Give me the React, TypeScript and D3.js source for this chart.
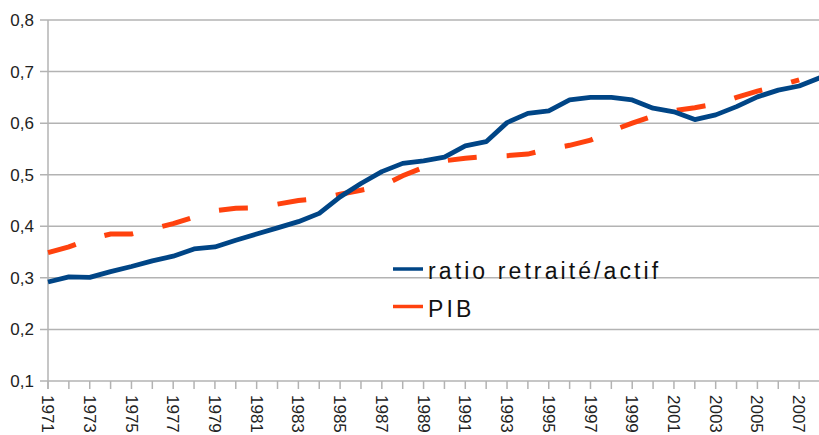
import React from "react";
import * as d3 from "d3";

const years: number[] = d3.range(1971, 2009);
const ratio: number[] = [
  0.292, 0.302, 0.301, 0.312, 0.322, 0.333, 0.342, 0.356, 0.36, 0.373,
  0.385, 0.397, 0.409, 0.425, 0.457, 0.483, 0.506, 0.522, 0.527, 0.534,
  0.556, 0.564, 0.601, 0.619, 0.624, 0.645, 0.65, 0.65, 0.645, 0.629,
  0.622, 0.607, 0.616, 0.632, 0.651, 0.664, 0.672, 0.688,
];
const pibYears: number[] = d3.range(1971, 2008);
const pib: number[] = [
  0.349, 0.36, 0.375, 0.385, 0.385, 0.395, 0.405, 0.418, 0.43, 0.435,
  0.436, 0.443, 0.45, 0.454, 0.462, 0.47, 0.478, 0.498, 0.514, 0.527,
  0.532, 0.535, 0.537, 0.54, 0.55, 0.557, 0.567, 0.585, 0.6, 0.614,
  0.624, 0.63, 0.637, 0.65, 0.662, 0.672, 0.684,
];
const yTicks: number[] = [0.1, 0.2, 0.3, 0.4, 0.5, 0.6, 0.7, 0.8];
const seriesNames: string[] = ["ratio retraité/actif", "PIB"];
const colors: string[] = ["#004586", "#ff420e"];

export default function App() {
  const W = 819, H = 435;
  const x = d3.scaleLinear().domain([1971, 2008]).range([48, 820]);
  const y = d3.scaleLinear().domain([0.1, 0.8]).range([381, 20]);
  const line = d3.line<[number, number]>().x((d) => x(d[0])).y((d) => y(d[1]));
  const ratioPts = years.map((yr, i) => [yr, ratio[i]] as [number, number]);
  const pibPts = pibYears.map((yr, i) => [yr, pib[i]] as [number, number]);
  const font = "'Liberation Sans', Arial, sans-serif";
  return (
    <svg width={W} height={H} style={{ position: "absolute", left: 0, top: 0 }}>
      <rect width={W} height={H} fill="#fff" />
      {yTicks.map((t) => (
        <g key={t}>
          <line x1={40} x2={W} y1={y(t)} y2={y(t)} stroke="#b3b3b3" strokeWidth={1.5} />
          <text x={34} y={y(t)} dy="0.35em" textAnchor="end" fontFamily={font} fontSize={17} fill="#222">
            {d3.format(".1f")(t).replace(".", ",")}
          </text>
        </g>
      ))}
      <line x1={48} x2={48} y1={20} y2={389} stroke="#b3b3b3" strokeWidth={1.5} />
      {years.map((yr) => (
        <line key={yr} x1={x(yr)} x2={x(yr)} y1={381} y2={389} stroke="#b3b3b3" strokeWidth={1.5} />
      ))}
      {years.filter((yr) => yr % 2 === 1).map((yr) => (
        <text key={yr} transform={`translate(${x(yr)},395) rotate(90)`} dy="0.35em" fontFamily={font} fontSize={17} fill="#222">
          {yr}
        </text>
      ))}
      <path d={line(pibPts) || ""} fill="none" stroke={colors[1]} strokeWidth={5} strokeDasharray="29 30" />
      <path d={line(ratioPts) || ""} fill="none" stroke={colors[0]} strokeWidth={4.8} strokeLinejoin="round" />
      {seriesNames.map((n, i) => (
        <g key={n} transform={`translate(393,${269 + i * 37.5})`}>
          <line x1={0} x2={30} y1={0} y2={0} stroke={colors[i]} strokeWidth={3.5} />
          <text x={35} y={10} fontFamily={font} fontSize={23} letterSpacing={3.1} fill="#111">
            {n}
          </text>
        </g>
      ))}
    </svg>
  );
}
